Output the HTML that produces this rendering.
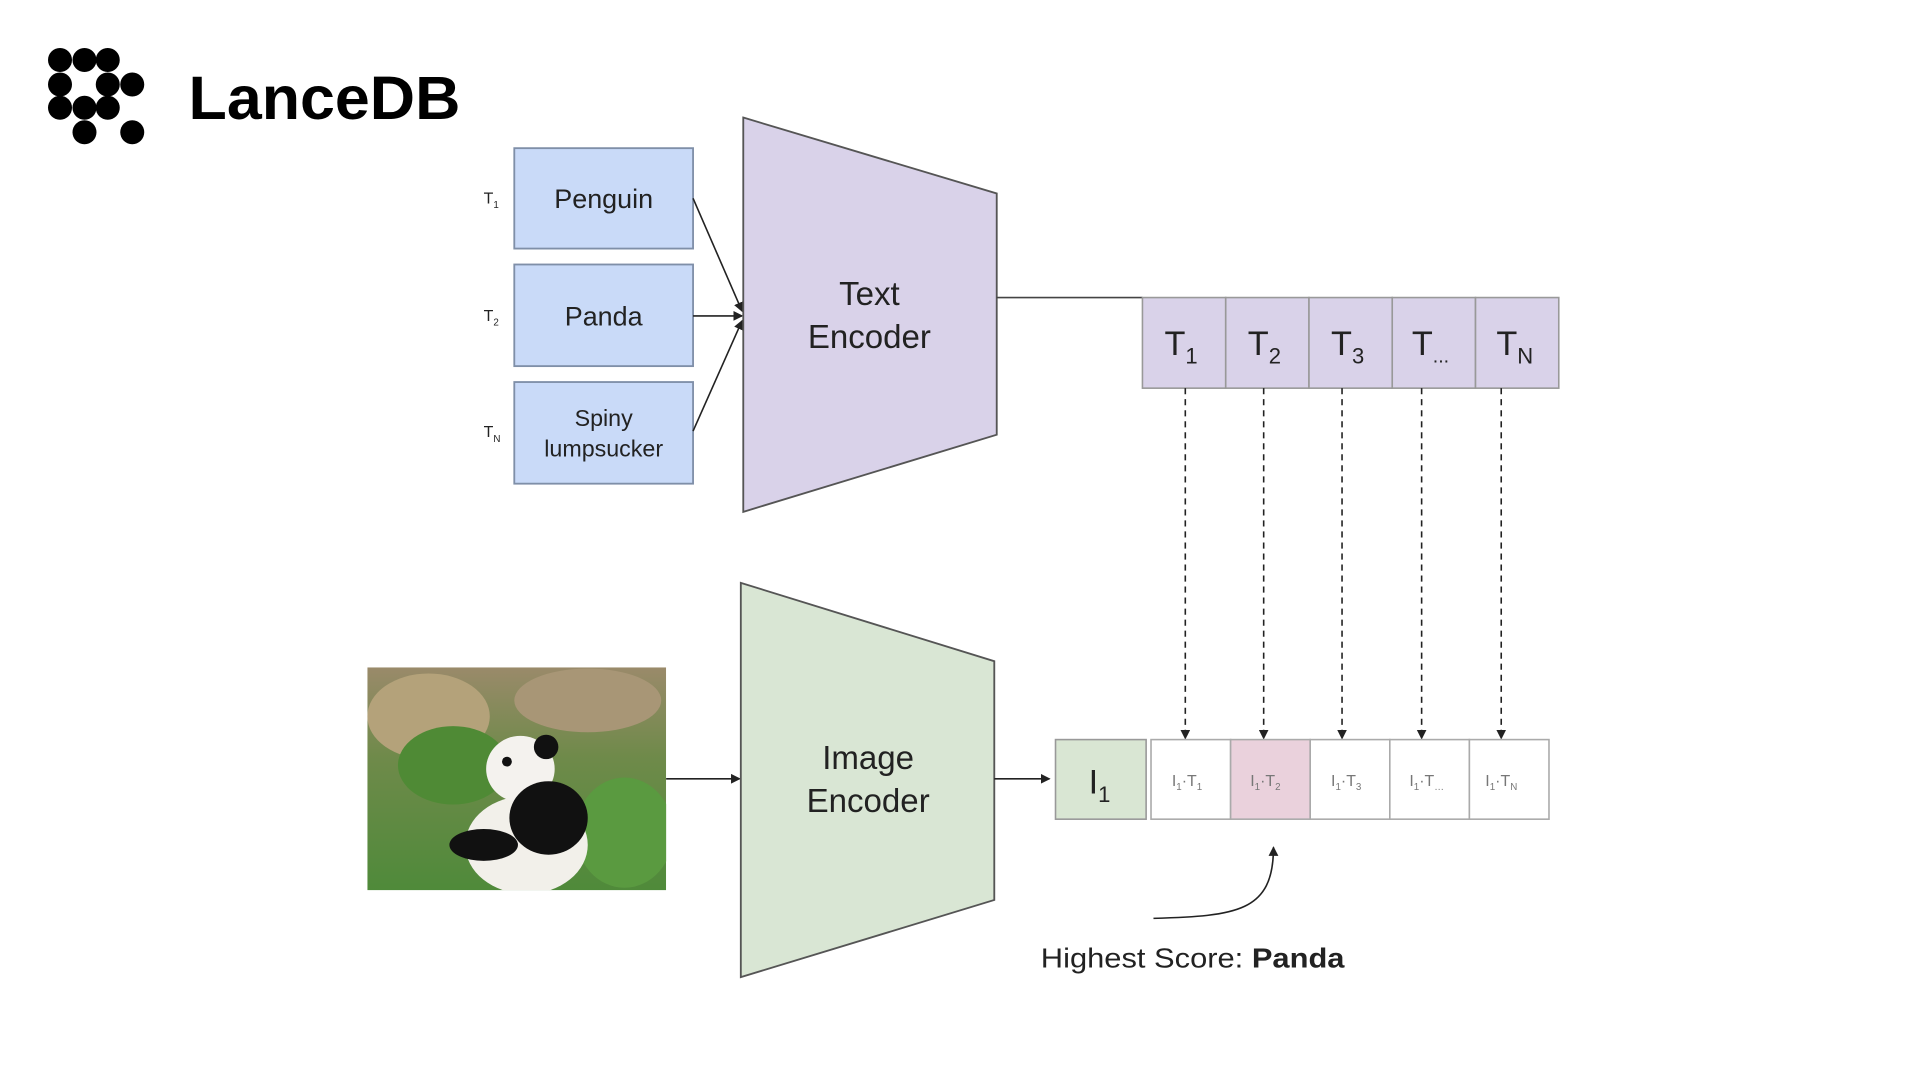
<!DOCTYPE html>
<html><head><meta charset="utf-8"><style>html,body{margin:0;padding:0;background:#fff}svg{display:block}</style></head>
<body>
<svg width="1920" height="1080" viewBox="0 0 1568 882" preserveAspectRatio="none" xmlns="http://www.w3.org/2000/svg" font-family="Liberation Sans, sans-serif">
<defs>
<marker id="ah" markerWidth="8" markerHeight="8" refX="7" refY="4" orient="auto" markerUnits="userSpaceOnUse"><path d="M0,0 L8,4 L0,8 z" fill="#222"/></marker>
<linearGradient id="bg" x1="0" y1="0" x2="0" y2="1"><stop offset="0" stop-color="#9a8a6a"/><stop offset="0.4" stop-color="#6f8a4a"/><stop offset="1" stop-color="#4f8a3a"/></linearGradient>
<clipPath id="pc"><rect x="300" y="545" width="244" height="182"/></clipPath>
</defs>
<g fill="#000">
<circle cx="49" cy="49" r="9.8"/><circle cx="69" cy="49" r="9.8"/><circle cx="88" cy="49" r="9.8"/>
<circle cx="49" cy="69" r="9.8"/><circle cx="88" cy="69" r="9.8"/><circle cx="108" cy="69" r="9.8"/>
<circle cx="49" cy="88" r="9.8"/><circle cx="69" cy="88" r="9.8"/><circle cx="88" cy="88" r="9.8"/>
<circle cx="69" cy="108" r="9.8"/><circle cx="108" cy="108" r="9.8"/>
</g>
<text x="154" y="97" font-size="50" font-weight="bold" textLength="222" lengthAdjust="spacingAndGlyphs">LanceDB</text>

<g stroke="#7f8fa8" stroke-width="1.5" fill="#c9daf8">
<rect x="420" y="121" width="146" height="82"/>
<rect x="420" y="216" width="146" height="83"/>
<rect x="420" y="312" width="146" height="83"/>
</g>
<g font-size="22" fill="#222" text-anchor="middle">
<text x="493" y="170">Penguin</text>
<text x="493" y="266">Panda</text>
<text x="493" y="348" font-size="19">Spiny</text>
<text x="493" y="373" font-size="19">lumpsucker</text>
</g>
<g font-size="13" fill="#222">
<text x="395" y="166">T<tspan font-size="8" dy="4">1</tspan></text>
<text x="395" y="262">T<tspan font-size="8" dy="4">2</tspan></text>
<text x="395" y="357">T<tspan font-size="8" dy="4">N</tspan></text>
</g>
<g stroke="#222" stroke-width="1.3" marker-end="url(#ah)">
<line x1="566" y1="162" x2="606" y2="254"/>
<line x1="566" y1="258" x2="606" y2="258"/>
<line x1="566" y1="352" x2="606" y2="262"/>
</g>
<polygon points="607,96 814,158 814,355 607,418" fill="#d9d2e9" stroke="#555" stroke-width="1.5"/>
<text x="710" y="249" font-size="27" text-anchor="middle" fill="#222">Text</text>
<text x="710" y="284" font-size="27" text-anchor="middle" fill="#222">Encoder</text>
<line x1="814" y1="243" x2="933" y2="243" stroke="#444" stroke-width="1.3"/>

<g fill="#d9d2e9" stroke="#999" stroke-width="1.3">
<rect x="933" y="243" width="68" height="74"/><rect x="1001" y="243" width="68" height="74"/>
<rect x="1069" y="243" width="68" height="74"/><rect x="1137" y="243" width="68" height="74"/>
<rect x="1205" y="243" width="68" height="74"/>
</g>
<g font-size="28" fill="#222">
<text x="951" y="290">T<tspan font-size="18" dy="7">1</tspan></text>
<text x="1019" y="290">T<tspan font-size="18" dy="7">2</tspan></text>
<text x="1087" y="290">T<tspan font-size="18" dy="7">3</tspan></text>
<text x="1153" y="290">T<tspan font-size="16" dy="6">...</tspan></text>
<text x="1222" y="290">T<tspan font-size="18" dy="7">N</tspan></text>
</g>
<g stroke="#222" stroke-width="1.3" stroke-dasharray="5,4" marker-end="url(#ah)">
<line x1="968" y1="317" x2="968" y2="603"/>
<line x1="1032" y1="317" x2="1032" y2="603"/>
<line x1="1096" y1="317" x2="1096" y2="603"/>
<line x1="1161" y1="317" x2="1161" y2="603"/>
<line x1="1226" y1="317" x2="1226" y2="603"/>
</g>

<g clip-path="url(#pc)">
<rect x="300" y="545" width="244" height="182" fill="url(#bg)"/>
<ellipse cx="350" cy="585" rx="50" ry="35" fill="#b4a27a"/>
<ellipse cx="480" cy="572" rx="60" ry="26" fill="#a89676"/>
<ellipse cx="370" cy="625" rx="45" ry="32" fill="#4f8a35"/>
<ellipse cx="510" cy="680" rx="40" ry="45" fill="#5a9a40"/>
<ellipse cx="430" cy="690" rx="50" ry="40" fill="#f2f0ea"/>
<ellipse cx="425" cy="628" rx="28" ry="27" fill="#f4f2ee"/>
<circle cx="446" cy="610" r="10" fill="#111"/>
<circle cx="414" cy="622" r="4" fill="#111"/>
<ellipse cx="448" cy="668" rx="32" ry="30" fill="#111"/>
<ellipse cx="395" cy="690" rx="28" ry="13" fill="#111"/>
</g>
<line x1="544" y1="636" x2="604" y2="636" stroke="#222" stroke-width="1.3" marker-end="url(#ah)"/>

<polygon points="605,476 812,540 812,735 605,798" fill="#d9e6d4" stroke="#555" stroke-width="1.5"/>
<text x="709" y="628" font-size="27" text-anchor="middle" fill="#222">Image</text>
<text x="709" y="663" font-size="27" text-anchor="middle" fill="#222">Encoder</text>
<line x1="812" y1="636" x2="857" y2="636" stroke="#222" stroke-width="1.3" marker-end="url(#ah)"/>

<rect x="862" y="604" width="74" height="65" fill="#d9e6d3" stroke="#999" stroke-width="1.3"/>
<text x="889" y="648" font-size="28" fill="#222">I<tspan font-size="18" dy="7">1</tspan></text>
<g fill="#fff" stroke="#aaa" stroke-width="1.3">
<rect x="940" y="604" width="65" height="65"/><rect x="1005" y="604" width="65" height="65" fill="#ead1dc"/>
<rect x="1070" y="604" width="65" height="65"/><rect x="1135" y="604" width="65" height="65"/>
<rect x="1200" y="604" width="65" height="65"/>
</g>
<g font-size="13" fill="#777">
<text x="957" y="642">I<tspan font-size="8" dy="3">1</tspan><tspan dy="-3">·T</tspan><tspan font-size="8" dy="3">1</tspan></text>
<text x="1021" y="642">I<tspan font-size="8" dy="3">1</tspan><tspan dy="-3">·T</tspan><tspan font-size="8" dy="3">2</tspan></text>
<text x="1087" y="642">I<tspan font-size="8" dy="3">1</tspan><tspan dy="-3">·T</tspan><tspan font-size="8" dy="3">3</tspan></text>
<text x="1151" y="642">I<tspan font-size="8" dy="3">1</tspan><tspan dy="-3">·T</tspan><tspan font-size="8" dy="3">…</tspan></text>
<text x="1213" y="642">I<tspan font-size="8" dy="3">1</tspan><tspan dy="-3">·T</tspan><tspan font-size="8" dy="3">N</tspan></text>
</g>
<path d="M942,750 C1010,748 1040,745 1040,692" fill="none" stroke="#222" stroke-width="1.3" marker-end="url(#ah)"/>
<text x="850" y="790" font-size="23" fill="#222" textLength="248" lengthAdjust="spacingAndGlyphs">Highest Score: <tspan font-weight="bold">Panda</tspan></text>
</svg>
</body></html>
